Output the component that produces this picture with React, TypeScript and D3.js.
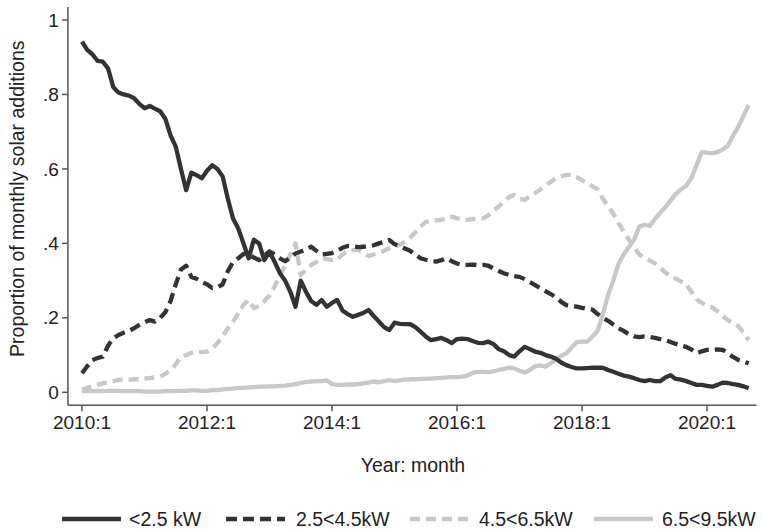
import React from "react";
import * as d3 from "d3";

// Month index 0 = 2010:1, ..., 128 = 2020:9
const N_MONTHS = 129;

const tickMonths = [0, 24, 48, 72, 96, 120];
const tickLabels = ["2010:1", "2012:1", "2014:1", "2016:1", "2018:1", "2020:1"];
const yTicks = [0, 0.2, 0.4, 0.6, 0.8, 1];
const yTickLabels = ["0", ".2", ".4", ".6", ".8", "1"];

const seriesNames = ["<2.5 kW", "2.5<4.5kW", "4.5<6.5kW", "6.5<9.5kW"];

const under25 = [
  0.942, 0.92, 0.908, 0.89, 0.888, 0.87, 0.82, 0.805, 0.8, 0.797, 0.79, 0.775, 0.763, 0.769, 0.762, 0.755,
  0.735, 0.69, 0.66, 0.6, 0.543, 0.59, 0.583, 0.575, 0.595, 0.61, 0.6, 0.58, 0.52, 0.467, 0.44, 0.4,
  0.36, 0.41, 0.4, 0.355, 0.378, 0.35, 0.32, 0.3, 0.27, 0.23, 0.3, 0.27, 0.245, 0.235, 0.248, 0.23,
  0.24, 0.248, 0.22, 0.21, 0.203, 0.208, 0.213, 0.221, 0.205, 0.19, 0.175, 0.167, 0.187, 0.184, 0.183, 0.183,
  0.175, 0.163, 0.15, 0.14, 0.143, 0.146, 0.14, 0.132, 0.143, 0.144, 0.143, 0.138, 0.133, 0.132, 0.136, 0.13,
  0.116, 0.11, 0.1, 0.096, 0.11, 0.122, 0.116, 0.109, 0.106, 0.1, 0.096, 0.09, 0.08, 0.073, 0.068, 0.064,
  0.064, 0.065, 0.066, 0.066, 0.066, 0.06, 0.055, 0.05, 0.045, 0.042, 0.038, 0.033, 0.03, 0.033, 0.03, 0.03,
  0.04, 0.046, 0.036, 0.034, 0.03, 0.025, 0.02, 0.02, 0.017, 0.015, 0.02, 0.026, 0.025, 0.022, 0.02, 0.016,
  0.011,
];

const from25to45 = [
  0.051, 0.07, 0.087, 0.092, 0.096, 0.125, 0.145, 0.154, 0.16, 0.165, 0.172, 0.181, 0.188, 0.194, 0.19, 0.2,
  0.215, 0.245, 0.29, 0.33, 0.34, 0.31, 0.305, 0.297, 0.29, 0.28, 0.282, 0.29, 0.325, 0.35, 0.36, 0.372,
  0.37, 0.362, 0.355, 0.368, 0.378, 0.37, 0.36, 0.352, 0.362, 0.373, 0.378, 0.383, 0.391, 0.38, 0.37, 0.372,
  0.374, 0.38, 0.388, 0.393, 0.392, 0.39, 0.391, 0.392, 0.395, 0.4, 0.404, 0.409, 0.398, 0.392, 0.386, 0.38,
  0.37, 0.36, 0.356, 0.353, 0.351, 0.355, 0.36, 0.352, 0.346, 0.342, 0.342, 0.343, 0.342, 0.342, 0.34, 0.333,
  0.326, 0.32, 0.315, 0.312, 0.31, 0.304, 0.296, 0.288, 0.28, 0.272, 0.264, 0.255, 0.243, 0.234, 0.232, 0.23,
  0.227, 0.224, 0.222, 0.21, 0.2, 0.192, 0.182, 0.172, 0.165, 0.156, 0.15, 0.148, 0.15, 0.149, 0.146, 0.143,
  0.14, 0.135, 0.13, 0.126, 0.122, 0.115, 0.105, 0.11, 0.114, 0.114, 0.115, 0.114, 0.105, 0.095, 0.087, 0.082,
  0.078,
];

const from45to65 = [
  0.006, 0.012, 0.015, 0.02, 0.024, 0.027, 0.03, 0.033, 0.034, 0.034, 0.035, 0.035, 0.037, 0.038, 0.04, 0.042,
  0.05, 0.06, 0.075, 0.096, 0.1, 0.106, 0.109, 0.108, 0.109, 0.118, 0.132, 0.15, 0.172, 0.19, 0.212, 0.235,
  0.248, 0.226, 0.232, 0.245, 0.26, 0.285, 0.315, 0.34, 0.37, 0.4, 0.315, 0.33, 0.342, 0.35, 0.36, 0.358,
  0.355, 0.356, 0.37, 0.38, 0.382, 0.382, 0.375, 0.366, 0.37, 0.374, 0.38, 0.387, 0.392, 0.396, 0.405, 0.415,
  0.43, 0.445, 0.458, 0.46, 0.462, 0.463, 0.468, 0.472, 0.468, 0.462, 0.463, 0.465, 0.466, 0.467, 0.475, 0.488,
  0.499, 0.512, 0.525, 0.53, 0.52, 0.517, 0.526, 0.535, 0.545, 0.555, 0.565, 0.575, 0.58, 0.584, 0.585, 0.578,
  0.57, 0.562, 0.553, 0.545, 0.52, 0.5, 0.48, 0.455, 0.432, 0.41, 0.39, 0.37, 0.362, 0.354, 0.346, 0.334,
  0.322, 0.312, 0.305, 0.298, 0.29, 0.27, 0.25, 0.24, 0.232, 0.228, 0.218, 0.205, 0.194, 0.186, 0.178, 0.16,
  0.14,
];

const from65to95 = [
  0.003, 0.003, 0.003, 0.004, 0.003, 0.004, 0.004, 0.004, 0.003, 0.003, 0.003, 0.003, 0.002, 0.002, 0.002, 0.002,
  0.003, 0.003, 0.003, 0.004, 0.004, 0.005, 0.005, 0.004, 0.004, 0.006, 0.006, 0.008, 0.009, 0.01, 0.012, 0.012,
  0.013, 0.014, 0.015, 0.015, 0.016, 0.016, 0.017, 0.018, 0.02, 0.022, 0.025, 0.028, 0.029, 0.03, 0.03, 0.032,
  0.022, 0.02, 0.02, 0.021, 0.021, 0.022, 0.024, 0.026, 0.029, 0.027, 0.03, 0.033, 0.03, 0.032, 0.034, 0.035,
  0.035, 0.036, 0.036, 0.037, 0.038, 0.039, 0.04, 0.041, 0.041, 0.042, 0.045, 0.052, 0.055, 0.055, 0.054, 0.056,
  0.06, 0.063, 0.066, 0.064, 0.058, 0.053, 0.06, 0.07, 0.072, 0.069, 0.078, 0.088, 0.098, 0.105, 0.12, 0.135,
  0.136, 0.136, 0.15, 0.165, 0.21, 0.26, 0.3, 0.345, 0.37, 0.39, 0.41, 0.445, 0.45, 0.447, 0.465, 0.482,
  0.497, 0.515, 0.533, 0.545, 0.555, 0.575, 0.61, 0.645, 0.644, 0.642, 0.645, 0.652, 0.662, 0.69, 0.713, 0.742,
  0.772,
];

const seriesValues = [under25, from25to45, from45to65, from65to95];
const seriesColors = ["#333333", "#333333", "#c8c8c8", "#c8c8c8"];
const seriesDash = [null, "11,6", "10,6", null];

const FONT = "'Liberation Sans', Arial, Helvetica, sans-serif";

export default function App() {
  const months = d3.range(N_MONTHS);
  const x = d3.scaleLinear().domain([0, 120]).range([82, 707]);
  const y = d3.scaleLinear().domain([0, 1]).range([392.3, 20]);
  const xAxisY = y(-0.035);
  const yAxisX = x(-2.7);

  const line = d3
    .line<number>()
    .x((_, i) => x(months[i]))
    .y((d) => y(d));

  const order = [3, 2, 1, 0];

  const legendItems = [
    { lx: 62, tx: 129 },
    { lx: 226, tx: 296 },
    { lx: 410, tx: 479 },
    { lx: 594, tx: 662 },
  ];

  return (
    <svg
      width={762}
      height={532}
      style={{ position: "absolute", left: 0, top: 0, background: "#fff" }}
      fontFamily={FONT}
    >
      <rect x={0} y={0} width={762} height={532} fill="#fff" />
      <line x1={yAxisX} x2={yAxisX} y1={y(1.035)} y2={xAxisY} stroke="#555" strokeWidth={1.5} />
      <line x1={yAxisX} x2={x(129.5)} y1={xAxisY} y2={xAxisY} stroke="#555" strokeWidth={1.5} />
      {yTicks.map((t, i) => (
        <g key={"yt" + i}>
          <line x1={yAxisX - 6} x2={yAxisX} y1={y(t)} y2={y(t)} stroke="#555" strokeWidth={1.5} />
          <text x={yAxisX - 9} y={y(t)} dy="0.35em" textAnchor="end" fontSize={19} fill="#222">
            {yTickLabels[i]}
          </text>
        </g>
      ))}
      {tickMonths.map((m, i) => (
        <g key={"xt" + i}>
          <line x1={x(m)} x2={x(m)} y1={xAxisY} y2={xAxisY + 6} stroke="#555" strokeWidth={1.5} />
          <text x={x(m)} y={xAxisY + 24} textAnchor="middle" fontSize={19} fill="#222">
            {tickLabels[i]}
          </text>
        </g>
      ))}
      <text x={413} y={472} textAnchor="middle" fontSize={19.5} fill="#222">
        Year: month
      </text>
      <text
        transform={`translate(24,${y(0.52)}) rotate(-90)`}
        textAnchor="middle"
        fontSize={19.5}
        fill="#222"
      >
        Proportion of monthly solar additions
      </text>
      {order.map((si) => (
        <path
          key={"s" + si}
          d={line(seriesValues[si]) || ""}
          fill="none"
          stroke={seriesColors[si]}
          strokeWidth={4.3}
          strokeDasharray={seriesDash[si] || undefined}
          strokeLinejoin="round"
        />
      ))}
      {legendItems.map((it, i) => (
        <g key={"lg" + i}>
          <line
            x1={it.lx}
            x2={it.lx + 59}
            y1={519}
            y2={519}
            stroke={seriesColors[i]}
            strokeWidth={4.5}
            strokeDasharray={seriesDash[i] || undefined}
          />
          <text x={it.tx} y={519} dy="0.35em" fontSize={19.5} fill="#222">
            {seriesNames[i]}
          </text>
        </g>
      ))}
    </svg>
  );
}
